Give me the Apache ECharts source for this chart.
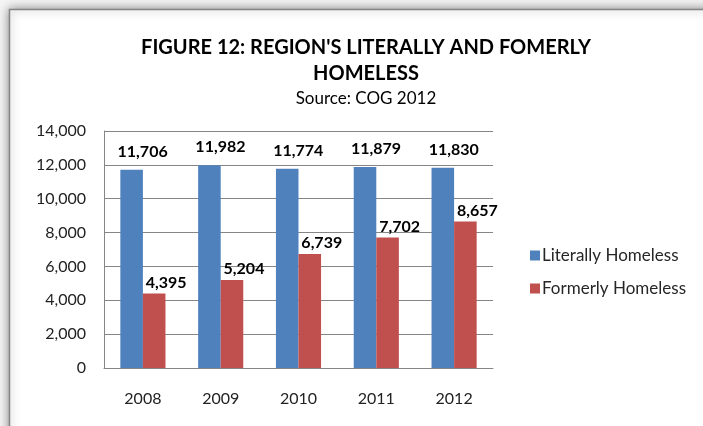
<!DOCTYPE html>
<html><head><meta charset="utf-8">
<script src="https://cdn.jsdelivr.net/npm/echarts@6/dist/echarts.min.js"></script>
<style>html,body{margin:0;padding:0;background:#fff}#c{width:703px;height:426px}</style>
</head><body><div id="c"></div>
<script>
const categories = ['2008','2009','2010','2011','2012'];
const literally = [11706, 11982, 11774, 11879, 11830];
const formerly = [4395, 5204, 6739, 7702, 8657];
const yTicks = {min: 0, max: 14000, interval: 2000};

const FONT = 'Lato';
const chart = echarts.init(document.getElementById('c'), null, {renderer: 'canvas'});
const labelFmt = p => p.value.toLocaleString('en-US');
chart.setOption({
  animation: false,
  backgroundColor: '#f4f4f4',
  graphic: [{
    type: 'rect', z: -10,
    shape: {x: 9.5, y: 9.5, width: 720, height: 440},
    style: {fill: '#ffffff', stroke: '#858585', lineWidth: 1.5,
      shadowBlur: 10, shadowColor: 'rgba(0,0,0,0.45)', shadowOffsetX: 0, shadowOffsetY: 0}
  }],
  title: {
    text: "FIGURE 12: REGION'S LITERALLY AND FOMERLY\nHOMELESS",
    subtext: 'Source: COG 2012',
    left: 361, textAlign: 'center', top: 29.5, itemGap: 2.5,
    textStyle: {fontFamily: FONT, fontSize: 20, fontWeight: 'bold', color: '#000', lineHeight: 26},
    subtextStyle: {fontFamily: FONT, fontSize: 17, color: '#000', lineHeight: 20}
  },
  legend: {
    orient: 'vertical', left: 525, top: 242, itemGap: 16,
    itemWidth: 10, itemHeight: 10, icon: 'rect',
    textStyle: {fontFamily: FONT, fontSize: 17, color: '#262626', padding: [0,0,0,-3]},
    data: ['Literally Homeless', 'Formerly Homeless']
  },
  grid: {left: 104, top: 131, width: 389, height: 237, containLabel: false},
  xAxis: {
    type: 'category', data: categories,
    axisLine: {lineStyle: {color: '#868686'}},
    axisTick: {show: false},
    axisLabel: {fontFamily: FONT, fontSize: 16, color: '#222', margin: 23}
  },
  yAxis: {
    type: 'value', min: yTicks.min, max: yTicks.max, interval: yTicks.interval,
    axisLine: {show: true, lineStyle: {color: '#868686'}},
    axisTick: {show: false},
    splitLine: {lineStyle: {color: '#868686'}},
    axisLabel: {fontFamily: FONT, fontSize: 16, color: '#222', margin: 18,
      formatter: v => v.toLocaleString('en-US')}
  },
  series: [{
    name: 'Literally Homeless', type: 'bar', data: literally,
    barGap: '0%', barCategoryGap: '42%',
    itemStyle: {color: '#4F81BD'},
    label: {show: true, position: 'top', distance: 10, offset: [11, 0], formatter: labelFmt,
      fontFamily: FONT, fontSize: 16, fontWeight: 'bold', color: '#000'}
  }, {
    name: 'Formerly Homeless', type: 'bar', data: formerly,
    itemStyle: {color: '#C0504D'},
    label: {show: true, position: 'top', distance: 3, offset: [12, 0], formatter: labelFmt,
      fontFamily: FONT, fontSize: 16, fontWeight: 'bold', color: '#000'}
  }]
});
</script></body></html>
